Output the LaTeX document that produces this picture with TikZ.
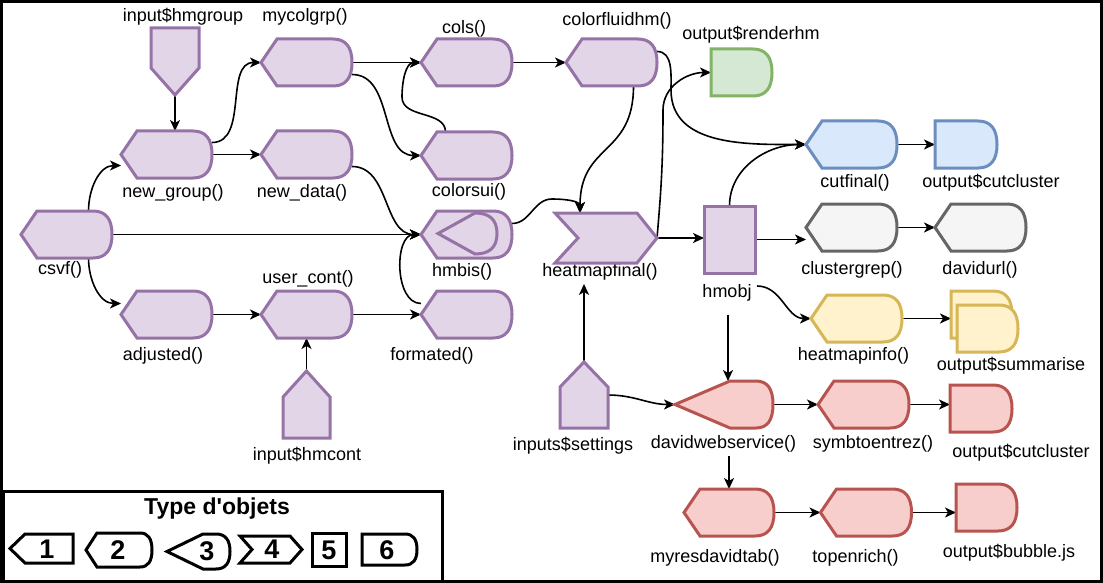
\documentclass[tikz,border=0pt]{standalone}
\usepackage{fontspec}
\setmainfont{Liberation Sans}
\usetikzlibrary{arrows.meta,calc}

\definecolor{purfill}{HTML}{E1D5E7}
\definecolor{purline}{HTML}{9673A6}
\definecolor{grnfill}{HTML}{D5E8D4}
\definecolor{grnline}{HTML}{82B366}
\definecolor{blufill}{HTML}{DAE8FC}
\definecolor{bluline}{HTML}{6C8EBF}
\definecolor{gryfill}{HTML}{F5F5F5}
\definecolor{gryline}{HTML}{666666}
\definecolor{yelfill}{HTML}{FFF2CC}
\definecolor{yelline}{HTML}{D6B656}
\definecolor{redfill}{HTML}{F8CECC}
\definecolor{redline}{HTML}{B85450}

\tikzset{
  box/.style={inner sep=0pt, outer sep=0pt, minimum width=91pt, minimum height=47pt},
  arr/.style={-{Stealth[length=11pt,width=10pt,inset=3pt]}, line width=1.6pt},
  purplebox/.style={fill=purfill, draw=purline, line width=3pt},
  greenbox/.style={fill=grnfill, draw=grnline, line width=3pt},
  bluebox/.style={fill=blufill, draw=bluline, line width=3pt},
  greybox/.style={fill=gryfill, draw=gryline, line width=3pt},
  yellowbox/.style={fill=yelfill, draw=yelline, line width=3pt},
  redbox/.style={fill=redfill, draw=redline, line width=3pt},
  legbox/.style={draw=black, line width=3pt},
  legnum/.style={font=\bfseries\fontsize{27pt}{30pt}\selectfont},
}

% pointed left side, rounded right side (#3 = depth of point, #4 = depth of round end)
\newcommand{\dispshape}[4]{%
  \draw[#2] (#1.west) -- ($(#1.north west)+(#3,0)$) -- ($(#1.north east)+(-#4,0)$)
    .. controls ($(#1.north east)+(-#4/3,0)$) and ($(#1.north east)!0.1667!(#1.south east)$) .. (#1.east)
    .. controls ($(#1.south east)!0.1667!(#1.north east)$) and ($(#1.south east)+(-#4/3,0)$) .. ($(#1.south east)+(-#4,0)$)
    -- ($(#1.south west)+(#3,0)$) -- cycle;}
% chevron
\newcommand{\stepshape}[4]{%
  \draw[#2] (#1.north west) -- ($(#1.north east)+(-#4,0)$) -- (#1.east) -- ($(#1.south east)+(-#4,0)$)
    -- (#1.south west) -- ($(#1.west)+(#3,0)$) -- cycle;}
% off page connectors
\newcommand{\offpagedown}[3]{%
  \draw[#2] (#1.north west) -- (#1.north east) -- ($(#1.south east)+(0,-#3)$) -- (#1.south)
    -- ($(#1.south west)+(0,-#3)$) -- cycle;}
\newcommand{\offpageup}[3]{%
  \draw[#2] (#1.north) -- ($(#1.north east)+(0,#3)$) -- (#1.south east) -- (#1.south west)
    -- ($(#1.north west)+(0,#3)$) -- cycle;}
\newcommand{\offpageleft}[3]{%
  \draw[#2] (#1.west) -- ($(#1.north west)+(#3,0)$) -- (#1.north east) -- (#1.south east)
    -- ($(#1.south west)+(#3,0)$) -- cycle;}

\begin{document}
\begin{tikzpicture}[x=1pt,y=-1pt,font=\fontsize{18pt}{21pt}\selectfont]
\useasboundingbox (0,0) rectangle (1103,583);
\draw[line width=3pt] (1.5,1.5) rectangle (1101.5,581.5);

% objects
\node[box, minimum width=48pt, minimum height=67pt] (hmgroup) at (175,61.5) {};
\node[box] (mycolgrp) at (306.5,62.5) {};
\node[box] (newgroup) at (166.5,154.5) {};
\node[box] (newdata) at (306.5,154.5) {};
\node[box] (cols) at (466.5,62.5) {};
\node[box] (colorsui) at (466.5,155.5) {};
\node[box] (colorfluid) at (611.5,62.5) {};
\node[box, minimum width=61pt] (renderhm) at (741.5,72.5) {};
\node[box] (csvf) at (66.5,234.5) {};
\node[box] (hmbis) at (466.5,234.5) {};
\node[box, minimum width=59pt, minimum height=41pt] (hmbisin) at (467.5,233.5) {};
\node[box, minimum width=102pt, minimum height=50pt] (heatmapfinal) at (606,238) {};
\node[box, minimum width=51pt, minimum height=67pt] (hmobj) at (729.5,239.5) {};
\node[box] (cutfinal) at (851.5,144.5) {};
\node[box, minimum width=62pt] (cutclusterA) at (966,144.5) {};
\node[box] (clustergrep) at (851.5,227.5) {};
\node[box] (davidurl) at (980.5,227.5) {};
\node[box] (heatmapinfo) at (856.5,318.5) {};
\node[box, minimum width=61pt] (sumback) at (981.5,314.5) {};
\node[box, minimum width=61pt] (sumfront) at (987.5,328.5) {};
\node[box] (adjusted) at (166.5,314.5) {};
\node[box] (usercont) at (306.5,314.5) {};
\node[box] (formated) at (466.5,314.5) {};
\node[box, minimum width=47pt, minimum height=67pt] (hmcont) at (306.5,404.5) {};
\node[box, minimum width=48pt, minimum height=66pt] (settings) at (584,395) {};
\node[box, minimum width=98pt] (dws) at (724,404.5) {};
\node[box] (symb) at (863.5,404.5) {};
\node[box, minimum width=62pt] (cutclusterB) at (981,408.5) {};
\node[box, minimum width=90pt] (myres) at (729,512.5) {};
\node[box] (topenrich) at (866,512.5) {};
\node[box, minimum width=61pt] (bubble) at (986.5,507.5) {};

% labels
\node (hmgroupt) at (183,17) {input\$hmgroup};
\node (mycolgrpt) at (305,17) {mycolgrp()};
\node (colst) at (464,29) {cols()};
\node (colorfluidt) at (617,21) {colorfluidhm()};
\node (renderhmt) at (751,35) {output\$renderhm};
\node (newgroupt) at (173,193) {new\_group()};
\node (newdatat) at (302,193) {new\_data()};
\node (colorsuit) at (469,192) {colorsui()};
\node (csvft) at (60,270) {csvf()};
\node (hmbist) at (462,272) {hmbis()};
\node (heatmapfinalt) at (600,272) {heatmapfinal()};
\node (hmobjt) at (727,293) {hmobj};
\node (cutfinalt) at (855,183) {cutfinal()};
\node (cutclusterAt) at (991,183) {output\$cutcluster};
\node (clustergrept) at (852,270) {clustergrep()};
\node (davidurlt) at (980,270) {davidurl()};
\node (heatmapinfot) at (853.5,356) {heatmapinfo()};
\node (summariset) at (1011,366) {output\$summarise};
\node (adjustedt) at (163,356) {adjusted()};
\node (usercontt) at (308,279) {user\_cont()};
\node (formatedt) at (432,356) {formated()};
\node (hmcontt) at (307,456) {input\$hmcont};
\node (settingst) at (573,446) {inputs\$settings};
\node (dwst) at (723.5,444) {davidwebservice()};
\node (symbt) at (873,444) {symbtoentrez()};
\node (cutclusterBt) at (1021,453) {output\$cutcluster};
\node (myrest) at (715,558) {myresdavidtab()};
\node (topenricht) at (855.5,558) {topenrich()};
\node (bubblet) at (1009,553) {output\$bubble.js};

% bends
\coordinate (bendA) at (402,97);
\coordinate (bendB) at (552,199);
\coordinate (bendC) at (663,110);
\coordinate (bendD) at (671,90);
\coordinate (hfin) at ($(heatmapfinal.north west)+(25,0)$);
\coordinate (hmobjb) at ($(hmobjt.south)+(1,10)$);

% connectors
\draw[arr] (hmgroup.south) -- (hmgroup.south |- newgroup.north);
\draw[arr] ($(newgroup.east)+(0,-12)$) to[out=0,in=180] (mycolgrp.west);
\draw[arr] (newgroup.east) -- (newdata.west);
\draw[arr] ($(csvf.north)+(22,0)$) to[out=90,in=180] ($(newgroup.west)+(0,11)$);
\draw[arr] ($(csvf.south)+(22,0)$) to[out=-90,in=180] ($(adjusted.west)+(0,-11)$);
\draw[arr] (csvf.east) -- (hmbis.west);
\draw[arr] (adjusted.east) -- (usercont.west);
\draw[arr] (usercont.east) -- (formated.west);
\draw[arr] (hmcont.north) -- (usercont.south);
\draw[arr] (mycolgrp.east) -- (cols.west);
\draw[arr] ($(mycolgrp.east)+(0,12)$) to[out=0,in=180] (colorsui.west);
\draw[arr] ($(colorsui.north)+(-21,0)$) to[out=90,in=-90] (bendA) to[out=90,in=180] (cols.west);
\draw[arr] (cols.east) -- (colorfluid.west);
\draw[arr] ($(newdata.east)+(0,12)$) to[out=0,in=180] (hmbis.west);
\draw[arr] ($(formated.west)+(0,-11)$) to[out=180,in=180] (hmbis.west);
\draw[arr] ($(hmbis.east)+(0,-11)$) to[out=0,in=180] (bendB) to[out=0,in=90] (hfin);
\draw[arr] ($(colorfluid.south)+(22,0)$) to[out=-90,in=90,looseness=1.3] (hfin);
\draw[arr] (heatmapfinal.east) -- (hmobj.west |- heatmapfinal.east);
\draw[arr] (heatmapfinal.east) to[out=85,in=-90] (bendC) to[out=90,in=180] (renderhm.west);
\draw[arr] ($(colorfluid.east)+(0,-11)$) to[out=0,in=90] (bendD) to[out=-90,in=180] (cutfinal.west);
\draw[arr] (hmobj.north) to[out=90,in=180] (cutfinal.west);
\draw[arr] (hmobj.east) -- (clustergrep.west |- hmobj.east);
\draw[arr] (cutfinal.east) -- (cutclusterA.west);
\draw[arr] (clustergrep.east) -- (davidurl.west);
\draw[arr] ($(hmobjt.east)+(2,-7)$) to[out=0,in=180] (heatmapinfo.west);
\draw[arr] (heatmapinfo.east) -- (sumback.west |- heatmapinfo.east);
\draw[arr] (hmobjb) -- (hmobjb |- dws.north);
\draw[arr] (settings.north) -- (settings.north |- heatmapfinalt.south);
\draw[arr] (settings.east) to[out=0,in=180] (dws.west);
\draw[arr] (dws.east) -- (symb.west);
\draw[arr] (symb.east) -- (cutclusterB.west |- symb.east);
\draw[arr] (myres.north |- dwst.south) -- (myres.north);
\draw[arr] (myres.east) -- (topenrich.west);
\draw[arr] (topenrich.east) -- (bubble.west |- topenrich.east);

% outlines
\offpagedown{hmgroup}{purplebox}{27}
\dispshape{mycolgrp}{purplebox}{16}{19}
\dispshape{newgroup}{purplebox}{16}{19}
\dispshape{newdata}{purplebox}{16}{19}
\dispshape{cols}{purplebox}{16}{19}
\dispshape{colorsui}{purplebox}{16}{19}
\dispshape{colorfluid}{purplebox}{16}{19}
\dispshape{renderhm}{greenbox}{0}{19}
\dispshape{csvf}{purplebox}{16}{19}
\dispshape{hmbis}{purplebox}{16}{19}
\dispshape{hmbisin}{purplebox}{37}{22}
\stepshape{heatmapfinal}{purplebox}{23}{20}
\draw[purplebox] (hmobj.north west) rectangle (hmobj.south east);
\dispshape{cutfinal}{bluebox}{16}{19}
\dispshape{cutclusterA}{bluebox}{0}{19}
\dispshape{clustergrep}{greybox}{16}{19}
\dispshape{davidurl}{greybox}{16}{19}
\dispshape{heatmapinfo}{yellowbox}{16}{19}
\dispshape{sumback}{yellowbox}{0}{19}
\dispshape{sumfront}{yellowbox}{0}{19}
\dispshape{adjusted}{purplebox}{16}{19}
\dispshape{usercont}{purplebox}{16}{19}
\dispshape{formated}{purplebox}{16}{19}
\offpageup{hmcont}{purplebox}{26}
\offpageup{settings}{purplebox}{25}
\dispshape{dws}{redbox}{55}{17}
\dispshape{symb}{redbox}{16}{19}
\dispshape{cutclusterB}{redbox}{0}{19}
\dispshape{myres}{redbox}{16}{19}
\dispshape{topenrich}{redbox}{16}{19}
\dispshape{bubble}{redbox}{0}{19}

% legend
\draw[line width=3pt] (3,491) rectangle (442,581);
\node[font=\bfseries\fontsize{23pt}{27pt}\selectfont] (legtitle) at (217,509) {Type d\textquotesingle objets};
\node[box, minimum width=63pt, minimum height=29pt] (leg1) at (41.5,548.5) {};
\node[box, minimum width=66pt, minimum height=34pt] (leg2) at (119,550) {};
\node[box, minimum width=63pt, minimum height=35pt] (leg3) at (198.5,551.5) {};
\node[box, minimum width=62pt, minimum height=27pt] (leg4) at (271,549.5) {};
\node[box, minimum width=34pt, minimum height=33pt] (leg5) at (329,549.5) {};
\node[box, minimum width=55pt, minimum height=31pt] (leg6) at (389.5,549.5) {};
\offpageleft{leg1}{legbox}{15}
\dispshape{leg2}{legbox}{11}{12}
\dispshape{leg3}{legbox}{36}{14}
\stepshape{leg4}{legbox}{12}{12}
\draw[legbox] (leg5.north west) rectangle (leg5.south east);
\dispshape{leg6}{legbox}{0}{12}
\node[legnum] (num1) at (47,549) {1};
\node[legnum] (num2) at (118,550) {2};
\node[legnum] (num3) at (207,551) {3};
\node[legnum] (num4) at (272,549) {4};
\node[legnum] (num5) at (329,550) {5};
\node[legnum] (num6) at (387,550) {6};
\end{tikzpicture}
\end{document}
